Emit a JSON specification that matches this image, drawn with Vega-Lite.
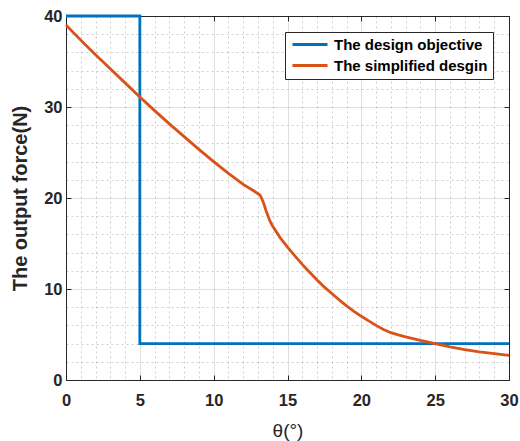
{
  "$schema": "https://vega.github.io/schema/vega-lite/v6.json",
  "autosize": "none",
  "width": 443,
  "height": 364,
  "padding": {"left": 66, "top": 16, "right": 11, "bottom": 61},
  "background": "white",
  "config": {
    "font": "Liberation Sans",
    "view": {"stroke": "#262626", "strokeWidth": 1}
  },
  "data": {"values": [
    {"series": "The design objective", "i": 0, "x": 0, "y": 40},
    {"series": "The design objective", "i": 1, "x": 5, "y": 40},
    {"series": "The design objective", "i": 2, "x": 5, "y": 4},
    {"series": "The design objective", "i": 3, "x": 30, "y": 4},
    {"series": "The simplified desgin", "i": 0, "x": 0, "y": 39.0},
    {"series": "The simplified desgin", "i": 1, "x": 1, "y": 37.35},
    {"series": "The simplified desgin", "i": 2, "x": 2, "y": 35.75},
    {"series": "The simplified desgin", "i": 3, "x": 3, "y": 34.2},
    {"series": "The simplified desgin", "i": 4, "x": 4, "y": 32.65},
    {"series": "The simplified desgin", "i": 5, "x": 5, "y": 31.1},
    {"series": "The simplified desgin", "i": 6, "x": 6, "y": 29.6},
    {"series": "The simplified desgin", "i": 7, "x": 7, "y": 28.15},
    {"series": "The simplified desgin", "i": 8, "x": 8, "y": 26.75},
    {"series": "The simplified desgin", "i": 9, "x": 9, "y": 25.35},
    {"series": "The simplified desgin", "i": 10, "x": 10, "y": 24.0},
    {"series": "The simplified desgin", "i": 11, "x": 11, "y": 22.7},
    {"series": "The simplified desgin", "i": 12, "x": 12, "y": 21.5},
    {"series": "The simplified desgin", "i": 13, "x": 12.7, "y": 20.8},
    {"series": "The simplified desgin", "i": 14, "x": 13.15, "y": 20.3},
    {"series": "The simplified desgin", "i": 15, "x": 13.35, "y": 19.6},
    {"series": "The simplified desgin", "i": 16, "x": 13.55, "y": 18.6},
    {"series": "The simplified desgin", "i": 17, "x": 13.8, "y": 17.5},
    {"series": "The simplified desgin", "i": 18, "x": 14, "y": 16.9},
    {"series": "The simplified desgin", "i": 19, "x": 14.5, "y": 15.65},
    {"series": "The simplified desgin", "i": 20, "x": 15, "y": 14.6},
    {"series": "The simplified desgin", "i": 21, "x": 15.5, "y": 13.65},
    {"series": "The simplified desgin", "i": 22, "x": 16, "y": 12.7},
    {"series": "The simplified desgin", "i": 23, "x": 16.5, "y": 11.85},
    {"series": "The simplified desgin", "i": 24, "x": 17, "y": 11.0},
    {"series": "The simplified desgin", "i": 25, "x": 17.5, "y": 10.2},
    {"series": "The simplified desgin", "i": 26, "x": 18, "y": 9.5},
    {"series": "The simplified desgin", "i": 27, "x": 18.5, "y": 8.8},
    {"series": "The simplified desgin", "i": 28, "x": 19, "y": 8.15},
    {"series": "The simplified desgin", "i": 29, "x": 19.5, "y": 7.55},
    {"series": "The simplified desgin", "i": 30, "x": 20, "y": 7.0},
    {"series": "The simplified desgin", "i": 31, "x": 20.5, "y": 6.5},
    {"series": "The simplified desgin", "i": 32, "x": 21, "y": 6.0},
    {"series": "The simplified desgin", "i": 33, "x": 21.5, "y": 5.55},
    {"series": "The simplified desgin", "i": 34, "x": 22, "y": 5.2},
    {"series": "The simplified desgin", "i": 35, "x": 22.5, "y": 4.95},
    {"series": "The simplified desgin", "i": 36, "x": 23, "y": 4.75},
    {"series": "The simplified desgin", "i": 37, "x": 24, "y": 4.35},
    {"series": "The simplified desgin", "i": 38, "x": 25, "y": 4.0},
    {"series": "The simplified desgin", "i": 39, "x": 26, "y": 3.65},
    {"series": "The simplified desgin", "i": 40, "x": 27, "y": 3.35},
    {"series": "The simplified desgin", "i": 41, "x": 28, "y": 3.1},
    {"series": "The simplified desgin", "i": 42, "x": 29, "y": 2.9},
    {"series": "The simplified desgin", "i": 43, "x": 30, "y": 2.7}
  ]},
  "resolve": {"axis": {"x": "independent", "y": "independent"}},
  "layer": [
    {
      "transform": [{"filter": "datum.series === 'The design objective'"}],
      "mark": {"type": "line", "strokeWidth": 2.8, "clip": false},
      "encoding": {
        "x": {"field": "x", "type": "quantitative", "scale": {"domain": [0, 30], "nice": false},
          "axis": {"orient": "bottom", "values": [1,2,3,4,6,7,8,9,11,12,13,14,16,17,18,19,21,22,23,24,26,27,28,29],
            "labels": false, "ticks": false, "domain": false, "title": null,
            "grid": true, "gridColor": "#262626", "gridOpacity": 0.22, "gridDash": [2, 3]}},
        "y": {"field": "y", "type": "quantitative", "scale": {"domain": [0, 40], "nice": false},
          "axis": {"orient": "left", "values": [2,4,6,8,12,14,16,18,22,24,26,28,32,34,36,38],
            "labels": false, "ticks": false, "domain": false, "title": null,
            "grid": true, "gridColor": "#262626", "gridOpacity": 0.22, "gridDash": [2, 3]}},
        "order": {"field": "i", "type": "quantitative"},
        "color": {"field": "series", "type": "nominal",
          "scale": {"domain": ["The design objective", "The simplified desgin"], "range": ["#0072BD", "#D95319"]},
          "legend": {"title": null, "orient": "top-right", "offset": 16, "fillColor": "white",
            "strokeColor": "#262626", "padding": 5, "symbolType": "M-1,0H6", "symbolSize": 100,
            "symbolStrokeWidth": 3, "labelFont": "Liberation Sans", "labelFontSize": 15,
            "labelFontWeight": "bold", "labelColor": "black", "labelOffset": 29, "rowPadding": 5,
            "labelLimit": 300}}
      }
    },
    {
      "transform": [{"filter": "datum.series === 'The simplified desgin'"}],
      "mark": {"type": "line", "strokeWidth": 2.8},
      "encoding": {
        "x": {"field": "x", "type": "quantitative",
          "axis": {"orient": "bottom", "values": [0,5,10,15,20,25,30], "title": "θ(°)",
            "titleFont": "Liberation Sans", "titleFontSize": 19, "titleFontWeight": "normal", "titleColor": "#262626",
            "titlePadding": 13,
            "labelFont": "Liberation Sans", "labelFontSize": 16.5, "labelFontWeight": "bold", "labelColor": "#262626",
            "labelPadding": 17, "labelFlush": false,
            "ticks": true, "tickSize": -5, "tickColor": "#262626", "domain": false,
            "grid": true, "gridColor": "#262626", "gridOpacity": 0.15}},
        "y": {"field": "y", "type": "quantitative",
          "axis": {"orient": "left", "values": [0,10,20,30,40], "title": "The output force(N)",
            "titleFont": "Liberation Sans", "titleFontSize": 20, "titleFontWeight": "bold", "titleColor": "#262626",
            "titlePadding": 13,
            "labelFont": "Liberation Sans", "labelFontSize": 16.5, "labelFontWeight": "bold", "labelColor": "#262626",
            "labelPadding": 9, "labelFlush": false,
            "ticks": true, "tickSize": -5, "tickColor": "#262626", "domain": false,
            "grid": true, "gridColor": "#262626", "gridOpacity": 0.15}},
        "order": {"field": "i", "type": "quantitative"},
        "color": {"field": "series", "type": "nominal"}
      }
    },
    {
      "transform": [{"filter": "datum.series === 'The simplified desgin'"}],
      "mark": {"type": "line", "opacity": 0},
      "encoding": {
        "x": {"field": "x", "type": "quantitative",
          "axis": {"orient": "top", "values": [0,5,10,15,20,25,30], "title": null, "labels": false,
            "ticks": true, "tickSize": -5, "tickColor": "#262626", "domain": false, "grid": false}},
        "y": {"field": "y", "type": "quantitative",
          "axis": {"orient": "right", "values": [0,10,20,30,40], "title": null, "labels": false,
            "ticks": true, "tickSize": -5, "tickColor": "#262626", "domain": false, "grid": false}},
        "order": {"field": "i", "type": "quantitative"}
      }
    }
  ]
}
